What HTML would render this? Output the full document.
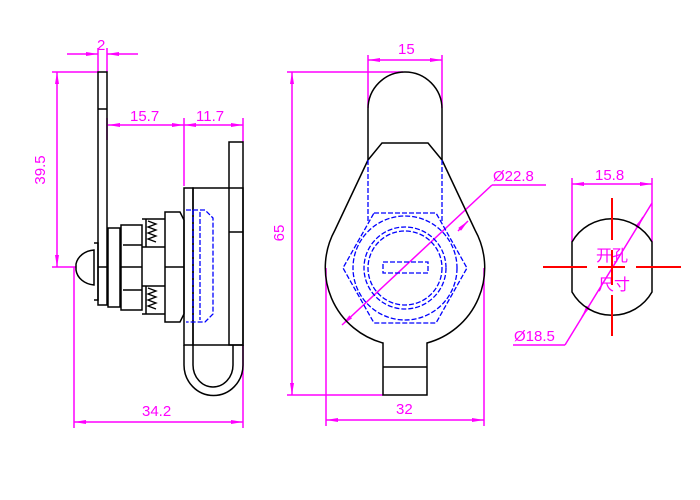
<!DOCTYPE html>
<html><head><meta charset="utf-8"><style>html,body{margin:0;padding:0;background:#fff}svg{display:block}
text{font-family:"Liberation Sans Narrow","Liberation Sans","Noto Sans CJK SC",sans-serif;fill:#ff00ff;font-size:15px}</style></head>
<body>
<svg width="700" height="500" viewBox="0 0 700 500" xmlns="http://www.w3.org/2000/svg">
<defs>
<marker id="a" viewBox="0 0 12 4" refX="12" refY="2" markerWidth="12" markerHeight="4" markerUnits="userSpaceOnUse" orient="auto-start-reverse"><path d="M0,0L12,2L0,4z" fill="#ff00ff"/></marker>
</defs>
<g stroke="#ff00ff" stroke-width="1.5" fill="none">
<line x1="67" y1="54" x2="98" y2="54" marker-end="url(#a)"/>
<line x1="138" y1="54" x2="107" y2="54" marker-end="url(#a)"/>
<line x1="98" y1="48" x2="98" y2="72"/><line x1="107" y1="48" x2="107" y2="72"/>
<line x1="52" y1="72" x2="98" y2="72"/><line x1="52" y1="267" x2="76" y2="267"/>
<line x1="57" y1="72" x2="57" y2="267" marker-start="url(#a)" marker-end="url(#a)"/>
<line x1="108" y1="125" x2="184" y2="125" marker-start="url(#a)" marker-end="url(#a)"/>
<line x1="184" y1="125" x2="243" y2="125" marker-start="url(#a)" marker-end="url(#a)"/>
<line x1="184" y1="118" x2="184" y2="186"/><line x1="243" y1="118" x2="243" y2="142"/>
<line x1="107" y1="118" x2="107" y2="140"/>
<line x1="74" y1="267" x2="74" y2="428"/><line x1="243" y1="345" x2="243" y2="428"/>
<line x1="74" y1="422" x2="243" y2="422" marker-start="url(#a)" marker-end="url(#a)"/>
<line x1="368" y1="55" x2="368" y2="108"/><line x1="442" y1="55" x2="442" y2="108"/>
<line x1="368" y1="60" x2="442" y2="60" marker-start="url(#a)" marker-end="url(#a)"/>
<line x1="287" y1="72" x2="403" y2="72"/><line x1="287" y1="395" x2="383" y2="395"/>
<line x1="292" y1="72" x2="292" y2="395" marker-start="url(#a)" marker-end="url(#a)"/>
<line x1="326" y1="268" x2="326" y2="426"/><line x1="484" y1="268" x2="484" y2="426"/>
<line x1="326" y1="420" x2="484" y2="420" marker-start="url(#a)" marker-end="url(#a)"/>
<line x1="342" y1="325" x2="492" y2="185" marker-start="url(#a)"/>
<line x1="492" y1="185" x2="546" y2="185"/>
<line x1="458" y1="231" x2="468" y2="221" marker-end="url(#a)"/>
<line x1="572" y1="178" x2="572" y2="242"/><line x1="652" y1="178" x2="652" y2="242"/>
<line x1="572" y1="184" x2="652" y2="184" marker-start="url(#a)" marker-end="url(#a)"/>
<line x1="652" y1="203" x2="565" y2="345"/>
<line x1="640" y1="222" x2="643" y2="217" marker-end="url(#a)"/>
<line x1="585" y1="312" x2="582" y2="317" marker-end="url(#a)"/>
<line x1="565" y1="345" x2="513" y2="345"/>
</g>
<text x="97" y="50">2</text>
<text x="45" y="170" transform="rotate(-90 45 170)" text-anchor="middle">39.5</text>
<text x="130" y="121">15.7</text>
<text x="196" y="121">11.7</text>
<text x="142" y="416">34.2</text>
<text x="398" y="54">15</text>
<text x="284" y="233" transform="rotate(-90 284 233)" text-anchor="middle">65</text>
<text x="396" y="414">32</text>
<text x="493" y="181">Ø22.8</text>
<text x="595" y="180">15.8</text>
<text x="514" y="341">Ø18.5</text>
<text x="596" y="261" style="font-size:16px">开孔</text>
<text x="598" y="290" style="font-size:16px">尺寸</text>
<g stroke="#000" stroke-width="1.5" fill="none">
<rect x="98" y="72" width="9" height="233"/>
<line x1="98" y1="109" x2="107" y2="109"/><line x1="98" y1="267" x2="107" y2="267"/>
<path d="M94,243 H98 V300 H94"/>
<path d="M94,250 A20,17 0 0 0 76,264 L76,270 A20,17 0 0 0 94,285 Z"/>
<rect x="108" y="228" width="12" height="79"/>
<rect x="121" y="225" width="21" height="85"/><line x1="121" y1="267" x2="142" y2="267"/>
<line x1="123" y1="245" x2="142" y2="245"/><line x1="123" y1="290" x2="142" y2="290"/>
<path d="M142,219 h23 M142,247 h23 M142,286 h23 M142,314 h23"/>
<path d="M146,219 V247 M146,286 V314"/>
<path d="M148,221 l8,3 -8,3 8,3 -8,3 8,3 -8,3 8,3 M148,288 l8,3 -8,3 8,3 -8,3 8,3 -8,3 8,3" stroke-width="1.3"/>
<path d="M165,212 H180 L184,220 V314 L180,322 H165 Z"/><line x1="165" y1="267" x2="184" y2="267"/>
<rect x="184" y="188" width="9" height="157"/>
<rect x="193" y="188" width="50" height="157"/>
<rect x="229" y="142" width="14" height="203"/><line x1="229" y1="232" x2="243" y2="232"/>
<path d="M184,345 V365 A29,30 0 0 0 243,365 V345"/>
<path d="M193,345 V365 A20,22 0 0 0 233,365 V345"/>
<path d="M368,160 V109 A37,37 0 0 1 442,109 V160"/>
<path d="M368,160 L382,143 H428 L442,160"/>
<path d="M368,160 L335,230 A78,78 0 0 0 383,343 V395 H427 V343 A78,78 0 0 0 475,230 L442,160"/>
<line x1="383" y1="367" x2="427" y2="367"/>
<path d="M572,242 A46,46 0 0 1 652,242 V292 A46,46 0 0 1 572,292 Z"/>
</g>
<g stroke="#0000ff" stroke-width="1.3" fill="none" stroke-dasharray="5,2">
<path d="M186,210 H205 L213,218 V314 L205,322 H186"/>
<line x1="193" y1="210" x2="193" y2="322"/>
<line x1="200" y1="212" x2="200" y2="320"/>
<path d="M368,160 V222 M442,160 V222"/>
<path d="M374,213 H436 L467,268 L436,323 H374 L343,268 Z"/>
<circle cx="405" cy="268" r="52"/>
<circle cx="405" cy="268" r="41"/>
<circle cx="405" cy="268" r="37"/>
<rect x="383" y="262" width="45" height="11"/>
</g>
<g stroke="#ff0000" stroke-width="2">
<path d="M543,267 H587 M598,267 H625 M636,267 H681 M612,198 V240 M612,250 V285 M612,295 V336"/>
</g>
</svg>
</body></html>
